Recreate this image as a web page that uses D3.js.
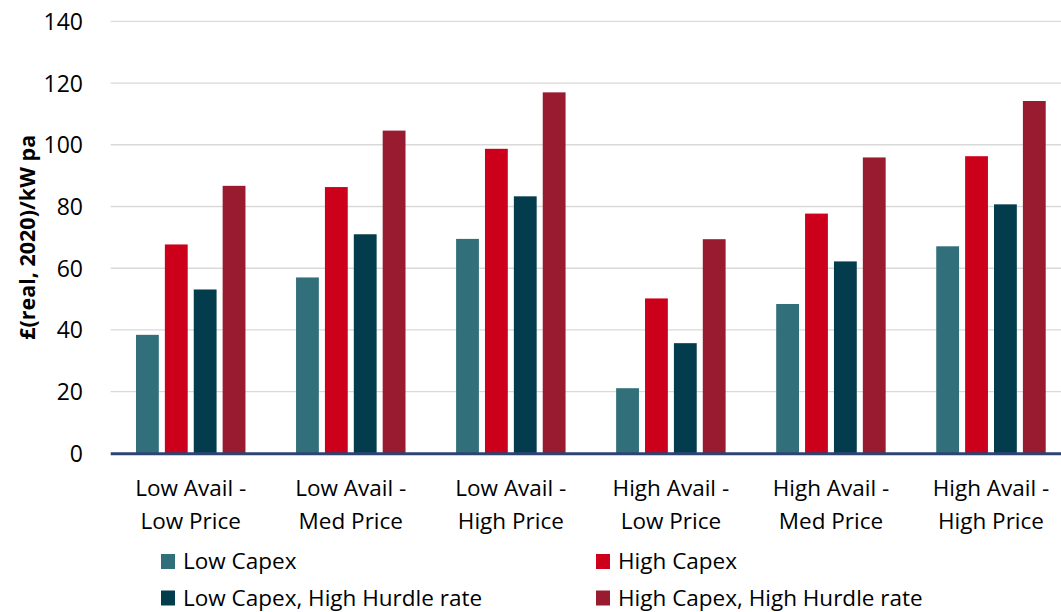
<!DOCTYPE html>
<html>
<head>
<meta charset="utf-8">
<script src="https://cdn.jsdelivr.net/npm/d3@7"></script>
<style>
  html, body { margin: 0; padding: 0; background: #fff; }
  svg { display: block; font-family: "Open Sans", sans-serif; }
</style>
</head>
<body>
<svg id="chart" width="1061" height="612"></svg>
<script>
// Scenario categories (two-line labels)
const categories = [
  "Low Avail - Low Price",
  "Low Avail - Med Price",
  "Low Avail - High Price",
  "High Avail - Low Price",
  "High Avail - Med Price",
  "High Avail - High Price"
];
const categoryLines = [
  ["Low Avail -", "Low Price"],
  ["Low Avail -", "Med Price"],
  ["Low Avail -", "High Price"],
  ["High Avail -", "Low Price"],
  ["High Avail -", "Med Price"],
  ["High Avail -", "High Price"]
];

const seriesNames = ["Low Capex", "High Capex", "Low Capex, High Hurdle rate", "High Capex, High Hurdle rate"];
const seriesColors = ["#31707A", "#CC001A", "#033D4D", "#981B2F"];

// £(real, 2020)/kW pa per scenario
const lowCapex            = [38.4, 57.0, 69.5, 21.1, 48.4, 67.1];
const highCapex           = [67.7, 86.3, 98.7, 50.2, 77.7, 96.3];
const lowCapexHighHurdle  = [53.1, 71.0, 83.3, 35.7, 62.2, 80.7];
const highCapexHighHurdle = [86.7, 104.6, 117.0, 69.4, 95.9, 114.2];

const yTicks = [0, 20, 40, 60, 80, 100, 120, 140];

const seriesValues = [lowCapex, highCapex, lowCapexHighHurdle, highCapexHighHurdle];

const svg = d3.select("#chart");

const plot = { left: 110.7, right: 1071, top: 21.4, bottom: 453.3 };

const y = d3.scaleLinear().domain([0, 140]).range([plot.bottom, plot.top]);

const x0 = d3.scaleBand()
  .domain(categories)
  .range([plot.left, plot.right])
  .paddingInner(0.316)
  .paddingOuter(0.158);

const x1 = d3.scaleBand()
  .domain(seriesNames)
  .range([0, x0.bandwidth()])
  .paddingInner(0.21)
  .paddingOuter(0);

// Gridlines
svg.append("g")
  .selectAll("line")
  .data(yTicks.filter(d => d > 0))
  .join("line")
  .attr("x1", plot.left)
  .attr("x2", 1061)
  .attr("y1", d => y(d))
  .attr("y2", d => y(d))
  .attr("stroke", "#D9D9D9")
  .attr("stroke-width", 1.4);

// Y axis tick labels
const yAxis = d3.axisLeft(y).tickValues(yTicks).tickSize(0).tickPadding(0);
const yg = svg.append("g")
  .attr("transform", "translate(83,0)")
  .call(yAxis);
yg.select(".domain").remove();
yg.selectAll("text")
  .attr("font-family", "'Open Sans', sans-serif")
  .attr("font-size", 23)
  .attr("fill", "#000")
  .attr("dy", "0.35em");

// Y axis title
svg.append("text")
  .attr("transform", `translate(35,${(plot.top + plot.bottom) / 2}) rotate(-90)`)
  .attr("text-anchor", "middle")
  .attr("font-weight", "bold")
  .attr("font-size", 21.5)
  .attr("fill", "#000")
  .text("£(real, 2020)/kW pa");

// Bars
const groups = svg.append("g")
  .selectAll("g")
  .data(categories)
  .join("g")
  .attr("transform", d => `translate(${x0(d)},0)`);

groups.selectAll("rect")
  .data((d, i) => seriesNames.map((s, j) => ({ series: s, value: seriesValues[j][i], color: seriesColors[j] })))
  .join("rect")
  .attr("x", d => x1(d.series))
  .attr("width", x1.bandwidth())
  .attr("y", d => y(d.value))
  .attr("height", d => y(0) - y(d.value))
  .attr("fill", d => d.color);

// Baseline
svg.append("line")
  .attr("x1", plot.left)
  .attr("x2", 1061)
  .attr("y1", y(0) + 0.5)
  .attr("y2", y(0) + 0.5)
  .attr("stroke", "#2E4372")
  .attr("stroke-width", 3);

// Category labels
const xl = svg.append("g")
  .selectAll("text")
  .data(categories)
  .join("text")
  .attr("x", d => x0(d) + x0.bandwidth() / 2)
  .attr("y", 496)
  .attr("text-anchor", "middle")
  .attr("font-size", 22.5)
  .attr("fill", "#000");
xl.selectAll("tspan")
  .data((d, i) => categoryLines[i])
  .join("tspan")
  .attr("x", function () { return d3.select(this.parentNode).attr("x"); })
  .attr("dy", (d, i) => i === 0 ? 0 : 33)
  .text(d => d);

// Legend (two columns, two rows)
const legendPos = [[161, 569], [596, 569], [161, 605.5], [596, 605.5]];
const legend = svg.append("g")
  .selectAll("g")
  .data(seriesNames)
  .join("g")
  .attr("transform", (d, i) => `translate(${legendPos[i][0]},${legendPos[i][1]})`);
legend.append("rect")
  .attr("x", 0)
  .attr("y", -15)
  .attr("width", 14)
  .attr("height", 15)
  .attr("fill", (d, i) => seriesColors[i]);
legend.append("text")
  .attr("x", 22)
  .attr("y", 0)
  .attr("font-size", 22.5)
  .attr("fill", "#000")
  .text(d => d);
</script>
</body>
</html>
